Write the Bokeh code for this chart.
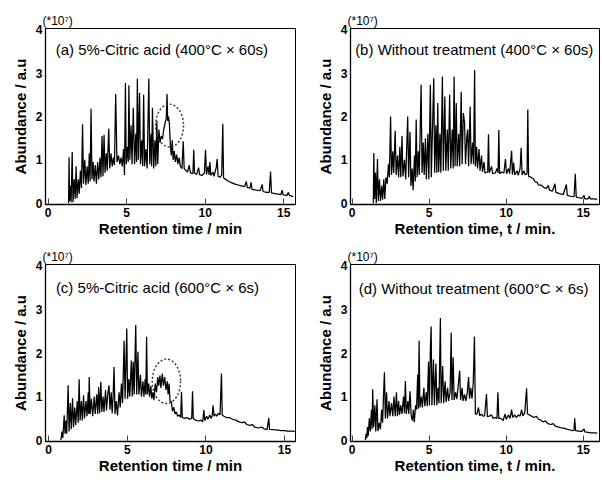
from bokeh.plotting import figure
from bokeh.layouts import gridplot
from bokeh.models import Label, Range1d, FixedTicker
from bokeh.embed import file_html
from bokeh.resources import INLINE

# ---------------- data (retention time [min], abundance [x1e7]) ----------------
time_a = [1.30,1.33,1.36,1.42,1.46,1.53,1.58,1.66,1.72,1.78,1.84,1.92,1.98,2.05,2.12,2.19,2.25,2.33,2.40,2.48,
          2.55,2.62,2.67,2.73,2.79,2.86,2.92,3.00,3.07,3.15,3.22,3.30,3.36,3.43,3.49,3.56,3.62,3.70,3.76,3.86,
          3.92,4.00,4.08,4.15,4.22,4.30,4.38,4.48,4.56,4.64,4.72,4.80,4.86,4.92,4.97,5.05,5.10,5.14,5.20,5.28,
          5.34,5.42,5.50,5.58,5.63,5.68,5.74,5.82,5.88,5.96,6.02,6.08,6.14,6.22,6.30,6.41,6.47,6.55,6.59,6.64,
          6.72,6.80,6.86,6.92,6.98,7.05,7.12,7.20,7.28,7.36,7.45,7.52,7.57,7.61,7.66,7.72,7.78,7.84,7.90,7.96,
          8.03,8.10,8.18,8.26,8.34,8.42,8.52,8.60,8.66,8.78,8.88,8.98,9.06,9.22,9.27,9.32,9.45,9.58,9.64,9.80,
          9.95,10.02,10.08,10.18,10.25,10.30,10.36,10.50,10.56,10.70,10.76,10.82,10.95,11.05,11.12,11.17,11.30,11.50,11.70,11.90,
          12.10,12.30,12.50,12.62,12.68,12.85,12.92,12.98,13.25,13.50,13.63,13.68,13.90,14.08,14.16,14.22,14.45,14.65,14.82,14.90,
          14.96,15.20,15.30,15.36,15.60]
abund_a = [0.00,1.06,0.05,0.40,0.02,1.18,0.02,0.55,0.10,0.85,0.12,0.55,0.22,0.75,0.35,1.82,0.45,1.00,0.42,0.85,
           0.45,1.15,0.50,2.18,0.55,0.95,0.50,0.88,0.45,0.95,0.55,1.05,0.60,1.55,0.62,1.58,0.70,1.15,0.75,1.72,
           0.80,1.15,0.85,1.05,0.88,2.52,0.95,1.10,0.90,1.05,0.85,1.25,0.65,2.77,0.90,1.30,0.95,2.72,1.00,1.80,
           0.90,2.20,0.90,1.60,0.95,2.87,1.00,2.55,0.90,1.45,0.85,2.50,0.85,1.25,0.80,2.87,0.90,1.60,0.85,2.20,
           0.80,1.45,0.85,1.90,0.90,1.70,1.40,1.55,1.48,1.70,1.85,1.95,2.52,1.90,2.00,1.83,1.35,1.10,1.45,1.00,
           1.20,0.95,1.12,0.90,1.05,0.85,0.80,1.43,0.80,0.75,0.72,0.88,0.70,0.68,1.23,0.70,0.66,0.82,0.66,0.64,
           0.70,1.23,0.66,0.85,0.65,0.95,0.64,0.72,0.62,0.82,1.02,0.62,0.60,0.65,1.83,0.58,0.55,0.50,0.47,0.44,
           0.42,0.40,0.38,0.50,0.36,0.35,0.48,0.32,0.30,0.29,0.43,0.27,0.25,0.25,0.73,0.24,0.22,0.21,0.20,0.30,
           0.19,0.18,0.25,0.18,0.15]

time_b = [1.38,1.41,1.46,1.52,1.57,1.65,1.70,1.78,1.84,1.92,1.98,2.06,2.12,2.20,2.28,2.36,2.42,2.50,2.56,2.64,
          2.70,2.80,2.86,2.95,3.02,3.10,3.16,3.24,3.30,3.40,3.48,3.61,3.67,3.76,3.82,3.90,3.96,4.05,4.10,4.16,
          4.22,4.30,4.36,4.48,4.54,4.62,4.68,4.76,4.82,4.92,4.98,5.08,5.14,5.30,5.36,5.44,5.50,5.56,5.62,5.70,
          5.76,5.86,5.92,6.02,6.08,6.18,6.24,6.33,6.40,6.50,6.56,6.62,6.68,6.76,6.82,6.92,6.98,7.08,7.14,7.22,
          7.30,7.36,7.44,7.50,7.56,7.66,7.72,7.82,7.88,7.95,8.00,8.08,8.14,8.24,8.30,8.40,8.46,8.56,8.62,8.80,
          8.85,8.90,9.05,9.12,9.30,9.40,9.47,9.52,9.57,9.70,9.85,9.95,10.02,10.15,10.22,10.35,10.40,10.48,10.55,10.70,
          10.78,10.90,10.97,11.03,11.15,11.22,11.35,11.40,11.45,11.60,11.78,11.85,12.00,12.10,12.30,12.45,12.60,12.73,12.80,13.00,
          13.16,13.22,13.45,13.70,13.90,13.96,14.20,14.40,14.48,14.54,14.80,14.90,15.05,15.10,15.30,15.40,15.45,15.70,15.90]
abund_b = [0.00,1.16,0.10,0.70,0.00,1.02,0.05,0.55,0.05,0.40,0.08,0.55,0.10,0.60,0.45,0.90,0.60,2.00,0.65,1.20,
           0.70,1.67,0.65,1.10,0.60,1.30,0.60,1.55,0.62,1.00,0.55,2.00,0.60,1.65,0.40,0.80,0.30,1.10,0.50,1.93,
           0.60,1.20,0.65,2.73,0.70,1.40,0.65,1.50,0.55,1.60,0.55,2.73,0.60,2.88,0.70,1.80,0.70,2.31,0.72,1.60,
           0.70,2.92,0.75,2.46,0.75,1.70,0.75,2.50,0.80,1.70,0.80,2.92,0.85,2.31,0.85,1.60,0.85,2.57,0.90,2.08,
           1.85,0.90,1.50,1.70,0.85,2.23,0.90,1.40,0.90,3.07,0.85,1.30,0.80,1.25,0.75,1.10,0.72,0.95,0.70,0.72,
           1.59,0.70,0.85,0.68,0.70,0.80,0.70,1.69,0.68,0.72,0.70,1.02,0.68,0.80,0.68,1.21,0.66,0.94,0.65,0.75,
           0.64,0.80,1.28,0.65,0.75,0.66,0.68,2.16,0.62,0.60,0.56,0.50,0.48,0.42,0.41,0.36,0.34,0.41,0.30,0.28,
           0.45,0.25,0.22,0.20,0.43,0.18,0.16,0.15,0.68,0.14,0.12,0.11,0.18,0.10,0.10,0.16,0.10,0.10,0.09]

time_c = [0.78,0.85,0.90,0.99,1.04,1.10,1.15,1.24,1.30,1.38,1.44,1.52,1.58,1.66,1.72,1.82,1.88,1.94,2.00,2.08,
          2.14,2.22,2.28,2.38,2.44,2.52,2.55,2.58,2.64,2.72,2.80,2.90,2.96,3.06,3.12,3.18,3.24,3.32,3.38,3.46,
          3.52,3.62,3.68,3.76,3.84,3.90,3.98,4.04,4.10,4.16,4.22,4.30,4.38,4.48,4.55,4.63,4.70,4.80,4.86,4.97,
          5.02,5.10,5.16,5.26,5.32,5.38,5.44,5.54,5.60,5.68,5.74,5.84,5.90,6.00,6.06,6.14,6.18,6.23,6.28,6.36,
          6.42,6.50,6.56,6.64,6.70,6.78,6.86,6.94,7.00,7.08,7.14,7.23,7.30,7.38,7.46,7.54,7.60,7.66,7.72,7.80,
          7.88,7.96,8.04,8.12,8.20,8.30,8.40,8.45,8.50,8.65,8.80,8.95,9.10,9.15,9.20,9.35,9.50,9.70,9.80,9.87,
          9.93,10.05,10.12,10.25,10.32,10.40,10.46,10.52,10.62,10.70,10.80,10.90,10.99,11.04,11.15,11.30,11.50,11.70,11.90,12.10,
          12.30,12.45,12.60,12.80,12.95,13.10,13.35,13.55,13.70,13.90,14.00,14.05,14.30,14.60,14.80,15.00,15.20,15.40,15.65]
abund_c = [0.00,0.20,0.05,0.57,0.15,0.45,0.15,1.26,0.20,0.85,0.25,0.96,0.30,0.75,0.35,0.90,0.40,1.40,0.45,0.90,
           0.45,1.03,0.50,0.90,0.55,1.10,0.60,1.45,0.60,0.95,0.55,1.00,0.60,1.05,0.60,1.22,0.62,1.34,0.65,1.00,
           0.65,1.15,0.68,1.05,1.26,0.70,1.10,0.62,1.00,1.68,0.60,0.90,0.57,1.10,0.75,1.30,0.85,2.28,0.95,2.56,
           0.95,1.40,1.00,1.83,1.00,1.80,1.05,2.64,1.05,2.03,1.05,1.50,1.00,1.35,1.00,1.40,1.05,2.37,1.05,1.30,
           1.00,1.25,0.95,1.10,0.92,1.30,1.10,1.45,1.25,1.48,1.20,1.53,1.25,1.45,1.15,1.35,1.05,1.30,0.90,0.88,
           0.66,0.76,0.60,0.65,0.55,0.58,0.52,1.11,0.52,0.50,0.52,0.48,0.50,1.12,0.50,0.46,0.44,0.46,0.42,0.69,
           0.45,0.55,0.48,0.58,0.50,0.55,0.80,0.55,0.60,0.55,0.62,0.58,1.53,0.58,0.55,0.52,0.52,0.48,0.46,0.42,
           0.40,0.42,0.36,0.34,0.36,0.30,0.28,0.30,0.26,0.25,0.51,0.25,0.24,0.23,0.22,0.22,0.21,0.21,0.20]

time_d = [0.86,0.92,0.96,1.00,1.05,1.12,1.18,1.26,1.30,1.34,1.40,1.48,1.54,1.62,1.68,1.76,1.84,1.92,1.98,2.04,
          2.10,2.16,2.24,2.30,2.40,2.46,2.56,2.64,2.72,2.80,2.88,2.94,3.02,3.08,3.16,3.24,3.34,3.40,3.46,3.52,
          3.62,3.68,3.76,3.84,3.92,3.98,4.04,4.12,4.18,4.26,4.30,4.35,4.40,4.50,4.56,4.66,4.72,4.82,4.88,4.96,
          5.02,5.08,5.13,5.18,5.28,5.34,5.44,5.50,5.58,5.64,5.73,5.78,5.88,5.94,6.04,6.10,6.20,6.26,6.36,6.43,
          6.48,6.56,6.62,6.72,6.80,6.90,6.98,7.04,7.14,7.20,7.30,7.38,7.48,7.56,7.62,7.70,7.78,7.86,7.94,8.00,
          8.10,8.20,8.28,8.40,8.50,8.60,8.72,8.78,8.90,9.05,9.15,9.30,9.40,9.46,9.52,9.65,9.80,9.92,10.00,10.15,
          10.25,10.35,10.42,10.55,10.65,10.80,10.90,11.00,11.08,11.20,11.32,11.38,11.50,11.65,11.80,11.95,12.10,12.25,12.40,12.55,
          12.70,12.90,13.05,13.20,13.40,13.60,13.80,13.95,14.10,14.30,14.40,14.44,14.50,14.70,14.90,15.05,15.10,15.30,15.50,15.70,
          15.90]
abund_d = [0.00,0.15,0.05,0.30,0.10,0.50,0.20,0.70,0.25,1.17,0.30,0.80,0.20,0.94,0.21,0.40,0.25,0.70,0.40,1.00,
           1.56,0.50,1.10,0.50,0.90,0.55,0.85,0.55,1.00,0.55,1.10,0.55,0.90,0.58,0.80,0.60,1.00,0.62,1.36,0.60,
           0.90,0.60,1.12,0.55,0.45,0.70,0.41,0.80,0.70,1.50,0.72,2.28,0.75,1.00,0.75,1.20,0.78,1.10,0.78,1.80,
           0.80,2.10,2.61,0.80,1.85,0.80,1.76,0.80,1.20,0.85,2.80,0.85,1.70,0.85,1.35,0.87,1.20,0.90,1.10,2.47,
           0.92,1.90,0.92,1.10,0.94,1.30,1.60,0.92,1.20,0.90,1.05,0.90,1.10,1.45,0.95,1.20,0.95,1.30,2.38,0.60,
           0.60,0.75,0.56,0.60,0.55,0.56,1.06,0.54,0.55,0.58,0.50,0.52,0.50,1.10,0.50,0.50,0.45,0.60,0.48,0.58,
           0.50,0.70,0.52,0.58,0.52,0.58,0.55,0.70,0.56,0.62,1.19,0.60,0.58,0.55,0.52,0.55,0.48,0.46,0.42,0.44,
           0.38,0.36,0.38,0.32,0.30,0.28,0.27,0.25,0.24,0.22,0.23,0.50,0.22,0.21,0.20,0.26,0.19,0.18,0.17,0.17,
           0.16]

panel_titles = ["(a) 5%-Citric acid (400\u00b0C \u00d7 60s)",
                "(b) Without treatment (400\u00b0C \u00d7 60s)",
                "(c) 5%-Citric acid (600\u00b0C \u00d7 6s)",
                "(d) Without treatment (600\u00b0C \u00d7 6s)"]
x_labels = ["Retention time / min", "Retention time, t / min.",
            "Retention time / min", "Retention time, t / min."]
y_label = "Abundance / a.u"
scale_note = "(*10\u2077)"
x_ticks = [0, 5, 10, 15]
y_ticks = [0, 1, 2, 3, 4]

# highlighted (dotted circle) regions: centre time, centre abundance, width, height
circle_a = [7.73, 1.79, 1.78, 0.99]
circle_c = [7.49, 1.35, 1.80, 1.02]

FONT = "Liberation Sans"


def make_panel(t, y, title, xlabel, xr, label_pos, frame_w, frame_h,
               b_left, b_right, b_top, b_bottom, circle=None):
    p = figure(width=b_left + frame_w + b_right, height=b_top + frame_h + b_bottom,
               x_range=Range1d(*xr), y_range=Range1d(-0.03, 4.03),
               output_backend="svg", toolbar_location=None,
               min_border_left=b_left, min_border_right=b_right,
               min_border_top=b_top, min_border_bottom=b_bottom)
    p.title.text = scale_note
    p.title.text_font = FONT
    p.title.text_font_size = "12px"
    p.title.text_font_style = "normal"
    p.title.text_color = "black"
    p.title.standoff = 2
    p.title.offset = -3
    p.grid.visible = False
    p.outline_line_color = "black"
    p.outline_line_width = 1
    p.background_fill_color = "white"
    p.border_fill_color = "white"

    for ax in (p.xaxis[0], p.yaxis[0]):
        ax.axis_line_color = "black"
        ax.axis_line_width = 1.3
        ax.major_label_text_font = FONT
        ax.major_label_text_font_size = "12px"
        ax.major_label_text_font_style = "bold"
        ax.major_label_text_color = "black"
        ax.axis_label_text_font = FONT
        ax.axis_label_text_font_size = "15px"
        ax.axis_label_text_font_style = "bold"
        ax.axis_label_text_color = "black"
        ax.minor_tick_line_color = None
        ax.major_tick_out = 0
    p.xaxis.ticker = FixedTicker(ticks=x_ticks)
    p.yaxis.ticker = FixedTicker(ticks=y_ticks)
    p.xaxis.major_tick_in = 6
    p.xaxis.major_tick_line_color = "#444444"
    p.yaxis.major_tick_in = 0
    p.yaxis.major_tick_line_color = None
    p.xaxis.major_label_standoff = 3
    p.yaxis.major_label_standoff = 3
    p.xaxis.axis_label_standoff = 0
    p.yaxis.axis_label_standoff = 4
    p.xaxis.axis_label = xlabel
    p.yaxis.axis_label = y_label

    p.line(t, y, line_color="black", line_width=1.25)

    if circle is not None:
        p.ellipse(x=[circle[0]], y=[circle[1]], width=circle[2], height=circle[3],
                  fill_color=None, line_color="#333333", line_dash="2 2", line_width=1.4)

    p.add_layout(Label(x=label_pos[0], y=label_pos[1], text=title,
                       text_font=FONT, text_font_size="15px", text_color="black",
                       text_baseline="alphabetic"))
    return p


pa = make_panel(time_a, abund_a, panel_titles[0], x_labels[0], (-0.17, 15.75), (0.48, 3.54),
                250, 176, 45, 10, 28, 38, circle_a)
pb = make_panel(time_b, abund_b, panel_titles[1], x_labels[1], (-0.1, 16.05), (0.2, 3.54),
                249, 176, 45, 2, 28, 38)
pc = make_panel(time_c, abund_c, panel_titles[2], x_labels[2], (-0.2, 15.7), (0.46, 3.5),
                250, 177, 45, 10, 22, 38, circle_c)
pd = make_panel(time_d, abund_d, panel_titles[3], x_labels[3], (-0.1, 16.05), (0.43, 3.49),
                249, 177, 45, 2, 22, 38)

grid = gridplot([[pa, pb], [pc, pd]], toolbar_location=None)

open("out.html", "w").write(file_html(grid, INLINE))
